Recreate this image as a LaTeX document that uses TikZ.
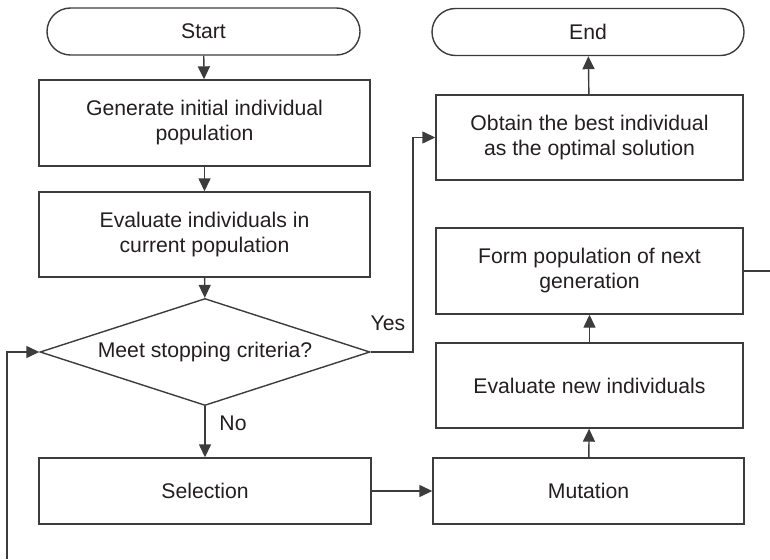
\documentclass[tikz,border=0pt]{standalone}
\usepackage{fontspec}
\setmainfont{Liberation Sans}
\usetikzlibrary{arrows.meta,shapes.geometric}
\definecolor{ink}{RGB}{35,31,32}
\definecolor{wire}{RGB}{60,60,60}
\begin{document}
\begin{tikzpicture}[x=1pt,y=-1pt,
  every node/.style={text=ink,font=\fontsize{21.2}{25}\selectfont,inner sep=0pt,align=center},
  procbox/.style={draw=wire,line width=1.4pt,rectangle,minimum height=85pt},
  terminal/.style={draw=wire,line width=1.4pt,rectangle,rounded corners=23.5pt,minimum height=47pt},
  decision/.style={draw=wire,line width=1.4pt,diamond,aspect=3.08,minimum width=330pt,minimum height=107pt},
  flow/.style={draw=wire,line width=1.4pt,-{Triangle[length=13pt,width=12pt]}},
  plainwire/.style={draw=wire,line width=1.4pt}]
\useasboundingbox (0,0) rectangle (770,559);

% left column
\node[terminal,minimum width=313pt] (start) at (203.5,31.5) {Start};
\node[procbox,minimum width=331pt,minimum height=86pt] (gen) at (204.5,123) {Generate initial individual\\population};
\node[procbox,minimum width=331pt] (evl) at (204.5,234.5) {Evaluate individuals in\\current population};
\node[decision] (dia) at (205,352) {Meet stopping criteria?};
\node[procbox,minimum width=332pt,minimum height=66pt] (sel) at (205,491) {Selection};

% right column
\node[terminal,minimum width=312pt] (end) at (588,32) {End};
\node[procbox,minimum width=307pt] (obt) at (589.5,137.5) {Obtain the best individual\\as the optimal solution};
\node[procbox,minimum width=307pt,minimum height=86pt] (form) at (589.5,271) {Form population of next\\generation};
\node[procbox,minimum width=307pt] (evn) at (589.5,385.5) {Evaluate new individuals};
\node[procbox,minimum width=311pt,minimum height=66pt] (mut) at (588.5,491) {Mutation};

% labels on the decision branches
\node (yes) at (388,323) {Yes};
\node (no) at (233,423) {No};

% free ends of the loop-back line
\coordinate (loopout) at (770,271);
\coordinate (loopin) at (7,559);
\coordinate (yesturn) at (413,352);

% connectors
\draw[flow] (start) -- (gen);
\draw[flow] (gen) -- (evl);
\draw[flow] (evl) -- (dia);
\draw[flow] (dia) -- (sel);
\draw[flow] (sel) -- (mut);
\draw[flow] (mut) -- (evn);
\draw[flow] (evn) -- (form);
\draw[flow] (obt) -- (end);
\draw[flow] (dia.east) -- (yesturn) |- (obt.west);
\draw[plainwire] (form.east) -- (loopout);
\draw[flow] (loopin) |- (dia.west);
\end{tikzpicture}
\end{document}
